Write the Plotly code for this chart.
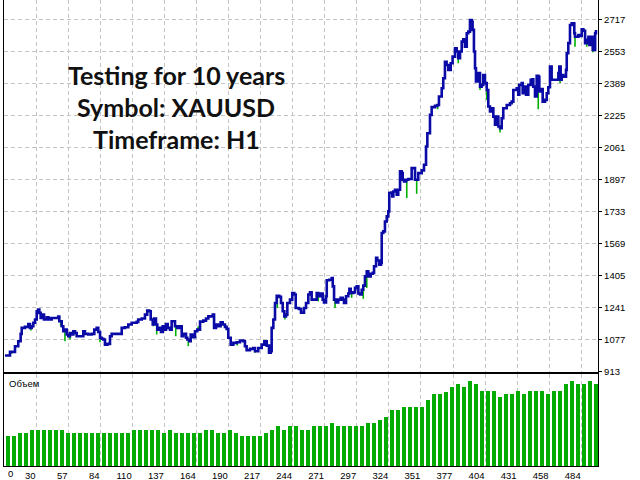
import bisect
import plotly.graph_objects as go

# ---- data ----
trade = [
    0.8, 5.0, 7.3, 9.2, 11.9, 13.9, 14.8, 17.5, 20.3, 21.7,
    23.1, 24.5, 25.9, 27.3, 28.6, 29.5, 30.6, 32.0, 33.4, 35.7,
    37.0, 37.8, 39.8, 45.3, 46.2, 48.2, 49.5, 50.9, 52.4, 53.7,
    55.1, 56.5, 57.9, 59.3, 60.7, 64.9, 66.2, 67.6, 70.4, 73.2,
    75.4, 77.4, 78.7, 80.2, 81.6, 82.9, 84.3, 86.3, 88.5, 89.9,
    95.4, 98.3, 101.0, 103.8, 106.6, 110.8, 112.1, 115.0, 117.7, 119.6,
    121.3, 122.5, 124.2, 125.3, 126.9, 128.0, 129.7, 131.1, 132.5, 133.6,
    135.3, 136.7, 138.6, 140.0, 141.4, 142.8, 144.7, 146.4, 148.4, 149.7,
    152.0, 153.1, 154.7, 155.9, 157.6, 159.5, 161.4, 163.7, 166.4, 168.7,
    170.6, 174.3, 175.4, 177.0, 178.9, 180.9, 182.6, 184.5, 185.9, 187.3,
    189.3, 191.5, 194.3, 197.1, 199.8, 201.2, 202.6, 205.4, 208.2, 209.6,
    212.3, 215.2, 217.4, 219.4, 221.3, 222.7, 223.5, 224.9, 226.3, 227.7,
    229.9, 231.3, 232.7, 234.1, 235.5, 236.6, 238.8, 240.7, 242.4, 243.6,
    246.3, 248.0, 250.5, 252.2, 254.1, 255.5, 256.9, 259.7, 261.1, 262.4,
    264.4, 266.1, 267.2, 268.9, 269.5, 271.6, 273.6, 274.5, 275.6, 277.2,
    279.1, 281.1, 282.8, 283.9, 285.6, 287.5, 288.4, 289.5, 291.7, 293.1,
    294.5, 295.9, 297.3, 298.7, 300.0, 301.4, 302.9, 304.2, 306.2, 307.9,
    309.0, 310.7, 311.7, 313.4, 314.8, 315.4, 316.7, 318.1, 319.6, 320.9,
    321.7, 323.1, 324.2, 325.1, 326.5, 327.9, 329.2, 330.7, 332.1, 332.9,
    334.0, 335.7, 337.6, 340.4, 343.2, 345.9, 348.8, 350.7, 352.4, 353.5,
    355.7, 357.1, 359.9, 361.8, 363.2, 365.5, 366.8, 368.2, 369.6, 371.0,
    373.0, 374.6, 376.6, 378.0, 379.3, 380.8, 382.2, 383.5, 384.9, 386.4,
    387.7, 389.1, 390.5, 391.3, 392.4, 393.3, 394.1, 396.1, 397.5, 398.9,
    400.2, 401.6, 403.1, 404.4, 405.8, 407.2, 408.6, 410.0, 411.4, 412.8,
    414.2, 415.6, 416.9, 419.8, 422.5, 423.9, 425.3, 428.1, 429.4, 430.3,
    432.3, 433.1, 434.2, 435.9, 437.8, 439.8, 441.2, 442.0, 443.4, 444.8,
    446.2, 447.0, 449.0, 449.8, 451.7, 453.2, 454.5, 455.9, 457.3, 461.5,
    462.9, 463.7, 464.8, 465.7, 467.0, 469.3, 469.9, 471.2, 472.6, 474.0,
    475.4, 476.2, 476.8, 479.6, 481.6, 482.4, 483.8, 485.2, 486.6, 488.0,
    488.8, 490.8, 491.6, 492.7, 493.6, 494.3,
]
balance = [
    995, 1014, 1014, 1043, 1068, 1106, 1137, 1142, 1157, 1137,
    1145, 1163, 1180, 1222, 1231, 1214, 1188, 1205, 1180, 1191,
    1188, 1180, 1188, 1195, 1171, 1145, 1120, 1128, 1103, 1094,
    1111, 1103, 1120, 1111, 1094, 1094, 1120, 1106, 1103, 1106,
    1128, 1137, 1116, 1086, 1081, 1077, 1051, 1055, 1094, 1106,
    1106, 1137, 1140, 1154, 1163, 1168, 1180, 1185, 1205, 1226,
    1222, 1180, 1154, 1185, 1154, 1128, 1137, 1116, 1145, 1128,
    1157, 1137, 1128, 1171, 1171, 1145, 1137, 1145, 1094, 1106,
    1086, 1077, 1068, 1103, 1089, 1120, 1128, 1169, 1174, 1185,
    1196, 1205, 1137, 1154, 1145, 1166, 1154, 1142, 1132, 1086,
    1051, 1060, 1063, 1072, 1068, 1043, 1022, 1029, 1034, 1017,
    1034, 1051, 1068, 1046, 1009, 1017, 1137, 1180, 1265, 1302,
    1296, 1265, 1222, 1196, 1205, 1265, 1282, 1316, 1308, 1239,
    1234, 1215, 1239, 1265, 1308, 1319, 1282, 1282, 1316, 1299,
    1313, 1282, 1268, 1299, 1381, 1384, 1393, 1350, 1282, 1268,
    1282, 1291, 1282, 1265, 1299, 1313, 1337, 1316, 1319, 1342,
    1350, 1313, 1308, 1333, 1354, 1401, 1427, 1401, 1415, 1419,
    1453, 1496, 1483, 1461, 1470, 1624, 1632, 1683, 1709, 1735,
    1829, 1832, 1811, 1837, 1846, 1820, 1846, 1940, 1931, 1897,
    1888, 1897, 1901, 1957, 1897, 1931, 1945, 1974, 2068, 2136,
    2230, 2270, 2276, 2281, 2324, 2367, 2418, 2503, 2486, 2461,
    2495, 2529, 2572, 2555, 2521, 2555, 2606, 2618, 2580, 2649,
    2657, 2717, 2708, 2666, 2555, 2469, 2401, 2444, 2375, 2384,
    2435, 2393, 2358, 2273, 2247, 2264, 2221, 2179, 2221, 2170,
    2162, 2213, 2264, 2281, 2290, 2298, 2358, 2367, 2333, 2384,
    2393, 2341, 2375, 2333, 2384, 2410, 2413, 2375, 2324, 2430,
    2426, 2350, 2362, 2298, 2307, 2341, 2372, 2478, 2410, 2410,
    2444, 2478, 2410, 2435, 2426, 2461, 2546, 2598, 2691, 2700,
    2700, 2649, 2631, 2640, 2635, 2669, 2662, 2598, 2615, 2631,
    2589, 2631, 2563, 2563, 2649, 2666,
]
# equity drawdown spikes (trade, equity low)
dip_trade = [6.4, 22.5, 47.3, 50.9, 55.1, 80.2, 124.7, 127.5, 143.4, 153.9,
             162.2, 194.8, 209.6, 228.2, 234.6, 262.4, 276.4, 290.3, 300.0, 302.9,
             336.3, 344.6, 362.1, 365.0, 379.3, 386.4, 397.5, 403.1, 414.2, 446.1,
             451.7, 464.3, 476.8, 486.6, 491.6]
dip_equity = [1004, 1123, 1145, 1068, 1077, 1063, 1145, 1103, 1094, 1043,
              1145, 1046, 1009, 1239, 1180, 1273, 1239, 1291, 1286, 1342,
              1803, 1825, 2259, 2324, 2495, 2623, 2358, 2307, 2139, 2259,
              2307, 2393, 2580, 2580, 2551]
volume = [
    0.30, 0.30, 0.33, 0.33, 0.36, 0.36, 0.36, 0.36, 0.36, 0.36,
    0.33, 0.33, 0.33, 0.33, 0.33, 0.33, 0.33, 0.33, 0.33, 0.33,
    0.33, 0.36, 0.36, 0.36, 0.36, 0.36, 0.33, 0.36, 0.33, 0.33,
    0.33, 0.33, 0.33, 0.36, 0.36, 0.33, 0.33, 0.36, 0.33, 0.30,
    0.30, 0.30, 0.30, 0.33, 0.36, 0.40, 0.36, 0.40, 0.40, 0.36,
    0.36, 0.40, 0.40, 0.40, 0.43, 0.40, 0.40, 0.40, 0.40, 0.40,
    0.43, 0.43, 0.46, 0.49, 0.56, 0.56, 0.59, 0.59, 0.59, 0.59,
    0.66, 0.72, 0.72, 0.74, 0.79, 0.82, 0.79, 0.85, 0.82, 0.75,
    0.75, 0.75, 0.69, 0.72, 0.72, 0.75, 0.72, 0.75, 0.75, 0.75,
    0.72, 0.75, 0.75, 0.82, 0.85, 0.82, 0.82, 0.85, 0.82,
]
x_labels = ["0", "30", "57", "84", "110", "137", "164", "190", "217", "244",
            "271", "297", "324", "351", "377", "404", "431", "458", "484"]
y_ticks = [913, 1077, 1241, 1405, 1569, 1733, 1897, 2061, 2225, 2389, 2553, 2717]
info_lines = ["Testing for 10 years", "Symbol: XAUUSD", "Timeframe: H1"]

n = min(len(trade), len(balance))
trade, balance = trade[:n], balance[:n]

# equity spikes: vertical segments from the balance level down to the equity low
sp_x, sp_y = [], []
for tx, low in zip(dip_trade, dip_equity):
    i = max(bisect.bisect_right(trade, tx) - 1, 0)
    sp_x += [tx, tx, None]
    sp_y += [balance[i], low, None]

X_MAX = 496.0
GRID_STEP = 26.78
tick_vals = [i * GRID_STEP for i in range(len(x_labels))]
bar_step = 5.01
bar_x = [(k + 0.67) * bar_step for k in range(len(volume))]

BLUE = "#0a0aa6"
GREEN = "#00b000"
BARGREEN = "#03ab03"
GRID = "#c4c4c4"
FONT = "Liberation Sans"

fig = go.Figure()
fig.add_trace(go.Scatter(x=sp_x, y=sp_y, mode="lines", line=dict(color=GREEN, width=1.6),
                         xaxis="x2", yaxis="y", hoverinfo="skip"))
fig.add_trace(go.Scatter(x=trade, y=balance, mode="lines", line=dict(color=BLUE, width=2.6, shape="hv"),
                         xaxis="x2", yaxis="y", hoverinfo="skip"))
fig.add_trace(go.Bar(x=bar_x, y=volume, width=bar_step * 0.78, marker=dict(color=BARGREEN, line=dict(width=0)),
                     xaxis="x", yaxis="y2", hoverinfo="skip"))

ann = []
for i, t in enumerate(info_lines):
    ann.append(dict(text=f"<b>{t}</b>", xref="paper", yref="paper", x=172 / 594,
                    y=1 - (75 + 32 * i) / 466, xanchor="center", yanchor="middle", showarrow=False,
                    font=dict(family="Lato", size=25, color="#111111")))
ann.append(dict(text="Объем", xref="paper", yref="paper", x=3 / 594, y=1 - 383 / 466,
                xanchor="left", yanchor="middle", showarrow=False,
                font=dict(family=FONT, size=9.5, color="#000000")))
ann.append(dict(text=x_labels[0], xref="paper", yref="paper", x=2 / 594, y=-8 / 466,
                xanchor="left", yanchor="middle", showarrow=False,
                font=dict(family=FONT, size=9.5, color="#000000")))

fig.update_layout(
    width=640, height=480,
    margin=dict(l=4, r=42, t=0, b=14, autoexpand=False),
    paper_bgcolor="white", plot_bgcolor="white",
    showlegend=False,
    hovermode=False,
    bargap=0,
    annotations=ann,
    xaxis=dict(domain=[0, 1], anchor="y2", range=[0, X_MAX],
               tickmode="array", tickvals=tick_vals, ticktext=[""] + x_labels[1:],
               ticklabelposition="outside left", ticks="",
               tickfont=dict(family=FONT, size=9.5, color="#000"),
               showgrid=True, gridcolor=GRID, griddash="4px,3px", gridwidth=1,
               showline=True, mirror=True, linecolor="#000", linewidth=1.2, zeroline=False),
    yaxis2=dict(domain=[0, 0.197], anchor="x", range=[0, 0.92],
                showticklabels=False, showgrid=False, zeroline=False, ticks="",
                showline=True, mirror=True, linecolor="#000", linewidth=1.2),
    xaxis2=dict(domain=[0, 1], anchor="y", matches="x", range=[0, X_MAX],
                tickmode="array", tickvals=tick_vals, showticklabels=False, ticks="",
                showgrid=True, gridcolor=GRID, griddash="4px,3px", gridwidth=1,
                showline=True, linecolor="#000", linewidth=1.2, zeroline=False),
    yaxis=dict(domain=[0.2017, 1], anchor="x2", side="right", range=[910.5, 2819.5],
               tickmode="array", tickvals=y_ticks, ticks="outside", ticklen=3,
               tickcolor="#000", tickfont=dict(family=FONT, size=9.5, color="#000"),
               showgrid=True, gridcolor=GRID, griddash="4px,3px", gridwidth=1,
               showline=True, mirror=True, linecolor="#000", linewidth=1.2, zeroline=False),
)

fig.write_html("out.html", config={"displayModeBar": False, "staticPlot": True},
               post_script="document.body.style.margin='0px';")
